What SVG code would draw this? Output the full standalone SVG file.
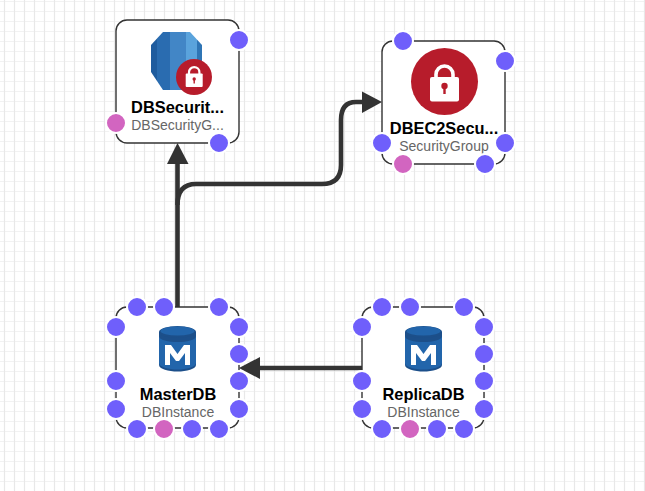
<svg xmlns="http://www.w3.org/2000/svg" width="645" height="491" viewBox="0 0 645 491">
<style>
.box{fill:#fff;stroke:#333;stroke-width:1.4}
.wire{fill:none;stroke:#333;stroke-width:4.6;stroke-linejoin:round}
.head{fill:#333}
.p{fill:#6f5ffb;stroke:#fff;stroke-width:2}
.q{fill:#d265c0;stroke:#fff;stroke-width:2}
text{font-family:"Liberation Sans",Arial,sans-serif;text-anchor:middle}
.t{font-size:16.400px;font-weight:700;fill:#000}
.s{font-size:14px;fill:#666}
.gv{stroke:#e8e8e8;stroke-width:1.200}
.gh{stroke:#f2f2f2;stroke-width:1}
</style>
<defs>
<pattern id="grid" width="10" height="10" patternUnits="userSpaceOnUse" x="0" y="-3">
<path class="gh" d="M0 4.500H10"/><path class="gv" d="M4.500 0V10"/>
</pattern>
<clipPath id="rds"><path d="M151 45 163 32H190L202 45V72L190 90H163L151 72Z"/></clipPath>
<g id="dbm">
<path fill="#1c4f8a" d="M-18.500 -18V15C-18.500 19 -9 21.500 0 21.500S18.500 19 18.500 15V-18Z"/>
<path fill="#2265ab" d="M-18.500 -14V13C-18.500 17 -9 19.500 0 19.500S18.500 17 18.500 13V-14C18.500 -10 9 -8 0 -8S-18.500 -10 -18.500 -14Z"/>
<ellipse cx="0" cy="-18" rx="18.500" ry="6" fill="#1c4f8a"/>
<ellipse cx="0" cy="-19" rx="17" ry="4.500" fill="#2265ab"/>
<path fill="#fff" d="M-12.500 15V-5H-6.500L0 4 6.500 -5H12.500V15H7.500V3L1.500 11H-1.500L-7.500 3V15Z"/>
</g>
</defs>
<rect width="645" height="491" fill="#fff"/>
<rect width="645" height="491" fill="url(#grid)"/>
<g id="connectors">
<path class="wire" d="M177.500 308V162"/>
<path class="head" d="M177.500 143L188.500 164H167Z"/>
<path class="wire" d="M177.500 205Q177.500 184 196 184H322Q341 184 341 165V120Q341 102 356 102H364"/>
<path class="head" d="M382 102L362 91.500V113Z"/>
<path class="wire" d="M362 368H258"/>
<path class="head" d="M239 368L260 357V379Z"/>
</g>
<g id="node-dbsecuritygroup">
<rect class="box" x="116" y="20" width="123" height="123" rx="11"/>
<g clip-path="url(#rds)">
<rect x="151" y="32" width="6" height="58" fill="#1f5c9e"/>
<rect x="157" y="32" width="13" height="58" fill="#2a6cb0"/>
<rect x="170" y="32" width="16" height="58" fill="#4286c6"/>
<rect x="186" y="32" width="11" height="58" fill="#5aa3dc"/>
<rect x="197" y="32" width="5" height="58" fill="#2f75b5"/>
</g>
<circle cx="194" cy="77" r="18" fill="#b71c2b"/>
<path fill="none" stroke="#fff" stroke-width="2.200" d="M189 76V72.300A5.200 5.200 0 0 1 199.400 72.300V76"/>
<rect x="185.700" y="73.500" width="17" height="13.500" rx="1" fill="#fff"/>
<circle cx="194.200" cy="79" r="1.700" fill="#b71c2b"/><rect x="193.500" y="79" width="1.400" height="4.500" fill="#b71c2b"/>
<text class="t" x="177.500" y="113">DBSecurit...</text>
<text class="s" x="177.500" y="130">DBSecurityG...</text>
<circle class="p" cx="239" cy="40" r="10"/>
<circle class="q" cx="116" cy="123" r="10"/>
<circle class="p" cx="219" cy="143" r="10"/>
</g>
<g id="node-dbec2securitygroup">
<rect class="box" x="382" y="41" width="123" height="123" rx="11"/>
<circle cx="444.500" cy="81.500" r="33.500" fill="#b71c2b"/>
<path fill="none" stroke="#fff" stroke-width="3.600" d="M436 80V74.500A8.500 8.500 0 0 1 453 74.500V80"/>
<rect x="430" y="77" width="29" height="24.500" rx="2" fill="#fff"/>
<circle cx="444.500" cy="86" r="3.200" fill="#b71c2b"/><rect x="443.300" y="86" width="2.400" height="8" fill="#b71c2b"/>
<text class="t" x="444" y="134">DBEC2Secu...</text>
<text class="s" x="444" y="151">SecurityGroup</text>
<circle class="p" cx="403" cy="41" r="10"/>
<circle class="p" cx="505" cy="61" r="10"/>
<circle class="p" cx="382" cy="143" r="10"/>
<circle class="p" cx="505" cy="143" r="10"/>
<circle class="q" cx="403" cy="164" r="10"/>
<circle class="p" cx="485" cy="164" r="10"/>
</g>
<g id="node-masterdb">
<rect class="box" x="116" y="307" width="123" height="121" rx="11"/>
<use href="#dbm" x="177.500" y="350"/>
<text class="t" x="178" y="400">MasterDB</text>
<text class="s" x="178" y="417">DBInstance</text>
<circle class="p" cx="137" cy="307" r="10"/>
<circle class="p" cx="164" cy="307" r="10"/>
<circle class="p" cx="219" cy="307" r="10"/>
<circle class="p" cx="116" cy="327" r="10"/>
<circle class="p" cx="116" cy="381" r="10"/>
<circle class="p" cx="116" cy="409" r="10"/>
<circle class="p" cx="239" cy="327" r="10"/>
<circle class="p" cx="239" cy="354" r="10"/>
<circle class="p" cx="239" cy="381" r="10"/>
<circle class="p" cx="239" cy="409" r="10"/>
<circle class="p" cx="137" cy="429" r="10"/>
<circle class="q" cx="164" cy="429" r="10"/>
<circle class="p" cx="192" cy="429" r="10"/>
<circle class="p" cx="219" cy="429" r="10"/>
</g>
<g id="node-replicadb">
<rect class="box" x="362" y="307" width="122" height="121" rx="11"/>
<use href="#dbm" x="423.500" y="350"/>
<text class="t" x="423.500" y="400">ReplicaDB</text>
<text class="s" x="423.500" y="417">DBInstance</text>
<circle class="p" cx="382" cy="307" r="10"/>
<circle class="p" cx="410" cy="307" r="10"/>
<circle class="p" cx="464" cy="307" r="10"/>
<circle class="p" cx="362" cy="327" r="10"/>
<circle class="p" cx="362" cy="381" r="10"/>
<circle class="p" cx="362" cy="409" r="10"/>
<circle class="p" cx="484" cy="327" r="10"/>
<circle class="p" cx="484" cy="354" r="10"/>
<circle class="p" cx="484" cy="381" r="10"/>
<circle class="p" cx="484" cy="409" r="10"/>
<circle class="p" cx="382" cy="429" r="10"/>
<circle class="q" cx="410" cy="429" r="10"/>
<circle class="p" cx="437" cy="429" r="10"/>
<circle class="p" cx="464" cy="429" r="10"/>
</g>
</svg>
